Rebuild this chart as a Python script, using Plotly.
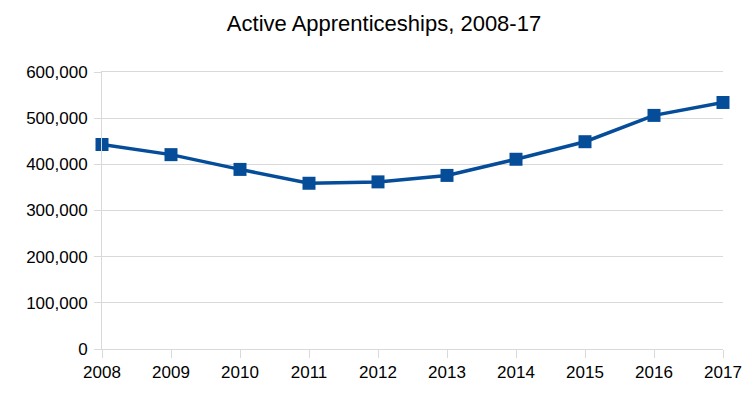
import plotly.graph_objects as go

years = [2008, 2009, 2010, 2011, 2012, 2013, 2014, 2015, 2016, 2017]
apprenticeships = [443000, 421000, 389000, 359000, 362000, 376000, 411000, 449000, 506000, 534000]
y_ticks = [0, 100000, 200000, 300000, 400000, 500000, 600000]
y_tick_labels = ["0", "100,000", "200,000", "300,000", "400,000", "500,000", "600,000"]

fig = go.Figure()
fig.add_trace(go.Scatter(
    x=years, y=apprenticeships, mode="lines+markers",
    line=dict(color="#054d98", width=3.5),
    marker=dict(symbol="square", size=13, color="#054d98"),
    showlegend=False, cliponaxis=False,
))

grid = "#d9d9d9"
W, H = 754, 394
fig.update_layout(
    width=W, height=H,
    margin=dict(l=102, r=29, t=72, b=45),
    paper_bgcolor="white", plot_bgcolor="white",
    font=dict(family="Liberation Sans, Arial, sans-serif", size=17, color="#000000"),
    title=dict(text="Active Apprenticeships, 2008-17", font=dict(size=22),
               x=384 / W, xref="container", xanchor="center",
               y=1 - 23 / H, yref="container", yanchor="middle"),
)
fig.update_xaxes(
    range=[2008, 2017], tickmode="array", tickvals=years,
    ticktext=[str(y) for y in years],
    showgrid=False, zeroline=False,
    showline=True, linecolor=grid, linewidth=1, mirror=True,
    ticks="outside", ticklen=8, tickcolor=grid,
)
fig.update_yaxes(
    range=[0, 600000], tickmode="array", tickvals=y_ticks, ticktext=y_tick_labels,
    showgrid=True, gridcolor=grid, gridwidth=1, zeroline=False,
    showline=True, linecolor=grid, linewidth=1,
    ticks="outside", ticklen=7, tickcolor=grid, ticklabelstandoff=3,
)
fig.write_html(
    "out.html",
    config={"displayModeBar": False},
    post_script="document.body.style.margin='0';document.body.style.overflow='hidden';",
)
